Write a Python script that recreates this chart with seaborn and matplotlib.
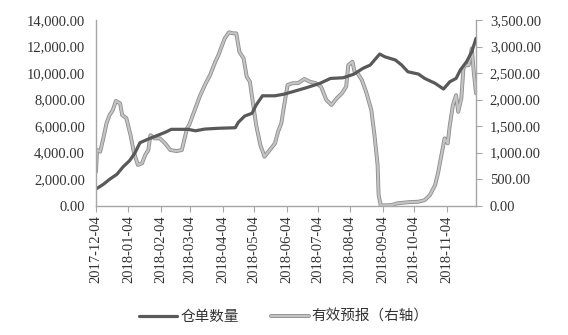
import matplotlib
matplotlib.use("Agg")
import matplotlib.pyplot as plt
import matplotlib.dates as mdates
import matplotlib.patheffects as pe
from matplotlib.lines import Line2D
from matplotlib.ticker import FuncFormatter, MultipleLocator
import pandas as pd
import seaborn as sns

# ---- data ----
warrant_dates = ["2017-12-04", "2017-12-11", "2017-12-17", "2017-12-24", "2017-12-30",
                 "2018-01-05", "2018-01-10", "2018-01-15", "2018-01-23", "2018-01-31",
                 "2018-02-08", "2018-02-14", "2018-03-02", "2018-03-09", "2018-03-18",
                 "2018-03-31", "2018-04-16", "2018-04-19", "2018-04-25", "2018-05-02",
                 "2018-05-06", "2018-05-12", "2018-05-24", "2018-06-02", "2018-06-10",
                 "2018-06-23", "2018-07-06", "2018-07-16", "2018-07-28", "2018-08-07",
                 "2018-08-16", "2018-08-23", "2018-09-01", "2018-09-06", "2018-09-16",
                 "2018-09-22", "2018-09-28", "2018-10-08", "2018-10-14", "2018-10-24",
                 "2018-11-01", "2018-11-07", "2018-11-13", "2018-11-17", "2018-11-23",
                 "2018-11-28", "2018-12-02"]
warrant_values = [1260, 1610, 1990, 2370, 2940,
                  3390, 3950, 4750, 5030, 5280,
                  5530, 5760, 5760, 5650, 5780,
                  5840, 5880, 6290, 6760, 6970,
                  7590, 8290, 8290, 8420, 8600,
                  8900, 9230, 9600, 9650, 9910,
                  10360, 10610, 11440, 11230, 10990,
                  10610, 10100, 9930, 9600, 9230,
                  8800, 9350, 9600, 10230, 10860,
                  11610, 12620]

forecast_dates = ["2017-12-04", "2017-12-05", "2017-12-08", "2017-12-11", "2017-12-14",
                  "2017-12-17", "2017-12-20", "2017-12-23", "2017-12-27", "2017-12-29",
                  "2018-01-02", "2018-01-06", "2018-01-09", "2018-01-13", "2018-01-17",
                  "2018-01-20", "2018-01-23", "2018-01-25", "2018-01-29", "2018-02-03",
                  "2018-02-08", "2018-02-13", "2018-02-19", "2018-02-24", "2018-03-01",
                  "2018-03-03", "2018-03-09", "2018-03-13", "2018-03-18", "2018-03-23",
                  "2018-03-28", "2018-03-31", "2018-04-03", "2018-04-06", "2018-04-10",
                  "2018-04-14", "2018-04-17", "2018-04-20", "2018-04-24", "2018-04-27",
                  "2018-04-30", "2018-05-03", "2018-05-06", "2018-05-10", "2018-05-14",
                  "2018-05-19", "2018-05-24", "2018-05-27", "2018-05-30", "2018-06-01",
                  "2018-06-05", "2018-06-10", "2018-06-15", "2018-06-21", "2018-06-26",
                  "2018-07-02", "2018-07-07", "2018-07-12", "2018-07-17", "2018-07-22",
                  "2018-07-27", "2018-07-31", "2018-08-02", "2018-08-06", "2018-08-08",
                  "2018-08-11", "2018-08-15", "2018-08-19", "2018-08-24", "2018-08-27",
                  "2018-08-30", "2018-08-31", "2018-09-02", "2018-09-12", "2018-09-18",
                  "2018-09-28", "2018-10-08", "2018-10-14", "2018-10-19", "2018-10-24",
                  "2018-10-27", "2018-10-30", "2018-11-02", "2018-11-05", "2018-11-07",
                  "2018-11-10", "2018-11-13", "2018-11-15", "2018-11-18", "2018-11-20",
                  "2018-11-22", "2018-11-25", "2018-11-28", "2018-11-30", "2018-12-02"]
forecast_values = [640, 1050, 1020, 1270, 1550,
                   1710, 1800, 1975, 1930, 1710,
                   1650, 1330, 1020, 770, 800,
                   955, 1050, 1330, 1270, 1270,
                   1175, 1050, 1030, 1050, 1460,
                   1520, 1840, 2055, 2275, 2465,
                   2715, 2840, 3000, 3155, 3270,
                   3250, 3250, 2900, 2780, 2430,
                   2340, 1930, 1520, 1145, 925,
                   1050, 1175, 1400, 1550, 1800,
                   2275, 2310, 2310, 2390, 2340,
                   2310, 2245, 1995, 1900, 2025,
                   2120, 2245, 2650, 2715, 2525,
                   2495, 2370, 2150, 1805, 1335,
                   770, 200, 5, 10, 45,
                   65, 75, 105, 200, 390,
                   640, 955, 1270, 1175, 1520,
                   1900, 2085, 1770, 2025, 2590,
                   2650, 2650, 2965, 2495, 2120]

series_labels = ["仓单数量", "有效预报（右轴）"]
tick_dates = ["2017-12-04", "2018-01-04", "2018-02-04", "2018-03-04", "2018-04-04",
              "2018-05-04", "2018-06-04", "2018-07-04", "2018-08-04", "2018-09-04",
              "2018-10-04", "2018-11-04"]

# ---- style ----
sns.set_style("white")
plt.rcParams["font.family"] = ["Noto Sans CJK SC", "DejaVu Sans"]

dark_color = "#595959"
light_color = "#c4c4c4"
light_edge = "#8c8c8c"
axis_color = "#a6a6a6"
num_font = "Liberation Serif"

df_w = pd.DataFrame({"date": pd.to_datetime(warrant_dates), "value": warrant_values})
df_f = pd.DataFrame({"date": pd.to_datetime(forecast_dates), "value": forecast_values})

fig = plt.figure(figsize=(5.68, 3.35), dpi=100)
ax = fig.add_axes([0.169, 0.386, 0.669, 0.554])
ax2 = ax.twinx()

sns.lineplot(data=df_w, x="date", y="value", ax=ax, color=dark_color, linewidth=2.3)
sns.lineplot(data=df_f, x="date", y="value", ax=ax2, color=light_color, linewidth=1.6)
light_pe = [pe.Stroke(linewidth=2.8, foreground=light_edge), pe.Normal()]
for ln in ax2.get_lines():
    ln.set_path_effects(light_pe)
ax.set_zorder(ax2.get_zorder() + 1)
ax.patch.set_visible(False)

ax.set_ylim(0, 14000)
ax2.set_ylim(0, 3500)
ax.set_xlim(pd.Timestamp(warrant_dates[0]), pd.Timestamp(warrant_dates[-1]))
ax.yaxis.set_major_locator(MultipleLocator(2000))
ax2.yaxis.set_major_locator(MultipleLocator(500))
fmt = FuncFormatter(lambda v, p: f"{v:,.2f}")
ax.yaxis.set_major_formatter(fmt)
ax2.yaxis.set_major_formatter(fmt)

ax.set_xticks(pd.to_datetime(tick_dates))
ax.xaxis.set_major_formatter(mdates.DateFormatter("%Y-%m-%d"))

for a in (ax, ax2):
    a.set_xlabel("")
    a.set_ylabel("")
    a.spines["top"].set_visible(False)
    for s in ("left", "right", "bottom"):
        a.spines[s].set_color(axis_color)
        a.spines[s].set_linewidth(1.0)

ax.spines["right"].set_visible(False)
ax2.spines["left"].set_visible(False)
ax2.spines["bottom"].set_visible(False)

ax.tick_params(axis="y", length=0, pad=8, labelsize=10.5, labelcolor="#333333")
ax2.tick_params(axis="y", length=4, color=axis_color, pad=6, labelsize=10.5, labelcolor="#333333")
ax.tick_params(axis="x", length=4, color=axis_color, pad=3, labelsize=10.5,
               labelcolor="#333333", rotation=90, bottom=True)
for lbl in ax.get_yticklabels() + ax2.get_yticklabels() + ax.get_xticklabels():
    lbl.set_fontfamily(num_font)

handles = [
    Line2D([0], [0], color=dark_color, linewidth=2.3),
    Line2D([0], [0], color=light_color, linewidth=1.6, path_effects=light_pe),
]
fig.legend(handles, series_labels, loc="center", bbox_to_anchor=(0.5, 0.055),
           ncol=2, frameon=False, fontsize=10.5, handlelength=2.6,
           columnspacing=2.2, handletextpad=0.2, labelcolor="#333333")

fig.savefig("out.png", dpi=100)
